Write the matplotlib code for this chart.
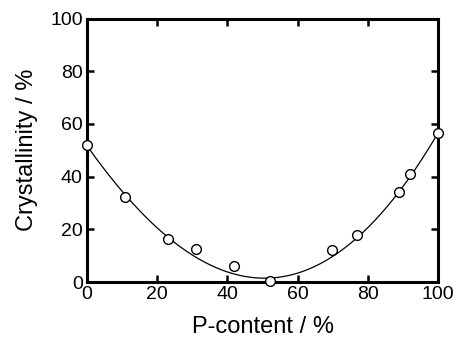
import numpy as np
import matplotlib
matplotlib.use("Agg")
import matplotlib.pyplot as plt

plt.rcParams['font.family'] = ['Liberation Sans', 'DejaVu Sans']

# P-content (%) and crystallinity (%)
p_content = [0.0, 10.9, 23.0, 31.2, 42.0, 52.0, 69.8, 76.8, 88.9, 92.1, 100.0]
crystallinity = [52.0, 32.4, 16.4, 12.4, 6.2, 0.4, 12.2, 17.8, 34.3, 40.9, 56.7]

# points
curve_x = [0.0, 11.1, 23.0, 26.5, 31.3, 40.7, 50.2, 64.5, 71.1, 76.8, 89.2, 100.0]
curve_y = [52.0, 32.4, 16.6, 13.4, 9.7, 4.6, 1.1, 4.6, 10.3, 17.8, 35.0, 56.5]

coef = np.polyfit(curve_x, curve_y, 4)
xs = np.linspace(0, 100, 300)
ys = np.polyval(coef, xs)

fig = plt.figure(figsize=(4.55, 3.37), dpi=100)
ax = fig.add_axes([0.191, 0.163, 0.772, 0.782])

ax.plot(xs, ys, color='black', lw=0.9, zorder=2)
ax.plot(p_content, crystallinity, 'o', ms=7, mfc='white', mec='black',
        mew=1.0, zorder=3, clip_on=False)

ax.set_xlim(0, 100)
ax.set_ylim(0, 100)
ax.set_xticks(np.arange(0, 101, 20))
ax.set_yticks(np.arange(0, 101, 20))

for s in ax.spines.values():
    s.set_linewidth(2.2)
ax.tick_params(direction='in', length=5, width=1.8, top=True, right=True,
               labelsize=14, pad=3)

ax.set_xlabel('P-content / %', fontsize=17, labelpad=9)
ax.set_ylabel('Crystallinity / %', fontsize=17, labelpad=9)

fig.savefig('out.png', dpi=100)
